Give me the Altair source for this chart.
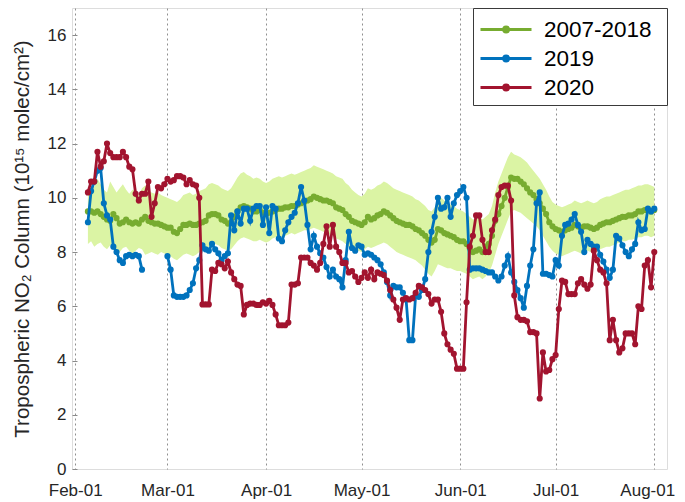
import altair as alt
import pandas as pd

SERIES = ["2007-2018", "2019", "2020"]
COLORS = ["#77AC30", "#0072BD", "#A2142F"]
BAND_COLOR = "#DBF4A4"

CLIM_START = "2020-02-05"
# 2007-2018 mean, daily from Feb 5 to Aug 1
GREEN = [
    9.5, 9.5, 9.45, 9.5, 9.4, 9.3, 9.2, 9.15, 9.4, 9.25, 9.05, 9.1, 9.2, 9.1, 9.05, 9.1, 9.05, 9.2, 9.3, 9.15, 9.1, 9.05, 9.05, 9.0, 8.95,
    8.9, 8.9, 8.75, 8.7, 8.85, 9.0, 9.0, 9.05, 9.0, 9.0, 9.05, 9.1, 9.15, 9.35, 9.4, 9.4, 9.35, 9.2, 9.15, 9.05, 9.1, 9.3, 9.5, 9.65, 9.7, 9.65, 9.6, 9.5, 9.5, 9.55, 9.45,
    9.4, 9.45, 9.5, 9.55, 9.6, 9.6, 9.65, 9.65, 9.7, 9.7, 9.75, 9.8, 9.85, 9.9, 9.95, 10.05, 10.0, 9.95, 9.9, 9.9, 9.85, 9.8, 9.65, 9.6, 9.55, 9.4, 9.3, 9.15, 9.1, 9.05,
    9.0, 9.1, 9.3, 9.2, 9.25, 9.35, 9.4, 9.5, 9.45, 9.35, 9.25, 9.15, 9.1, 9.05, 9.0, 9.0, 8.95, 8.85, 8.8, 8.7, 8.6, 8.45, 8.35, 8.45, 8.85, 8.8, 8.7, 8.65, 8.6, 8.55, 8.45,
    8.4, 8.4, 8.3, 8.15, 8.0, 8.05, 8.1, 8.0, 8.2, 8.3, 8.6, 9.15, 9.4, 9.7, 10.0, 10.4, 10.75, 10.7, 10.7, 10.6, 10.5, 10.35, 10.2, 10.1, 9.95, 9.8, 9.6, 9.4, 9.1, 8.95,
    8.85, 8.8, 8.75, 8.8, 8.85, 8.9, 9.0, 8.95, 8.9, 8.95, 8.95, 8.9, 8.85, 8.9, 9.0, 9.05, 9.1, 9.1, 9.15, 9.2, 9.25, 9.3, 9.3, 9.35, 9.35, 9.4, 9.5, 9.5, 9.55, 9.55, 9.5, 9.55,
]
LOWER = [
    8.3, 8.4, 8.2, 8.3, 8.35, 8.2, 8.1, 8.25, 8.3, 8.1, 8.0, 8.15, 8.2, 8.05, 7.95, 8.05, 8.15, 8.1, 7.9, 7.95, 8.0, 7.95, 7.9, 8.0, 7.95,
    7.9, 7.85, 7.75, 7.7, 7.8, 7.9, 7.95, 7.9, 7.85, 7.9, 8.0, 8.05, 8.1, 8.2, 8.3, 8.3, 8.25, 8.15, 8.1, 8.05, 8.1, 8.25, 8.4, 8.5, 8.55, 8.5, 8.45, 8.4, 8.4, 8.45, 8.4,
    8.35, 8.4, 8.5, 8.55, 8.6, 8.55, 8.6, 8.65, 8.7, 8.65, 8.7, 8.75, 8.8, 8.8, 8.85, 8.9, 8.85, 8.8, 8.75, 8.7, 8.65, 8.6, 8.5, 8.45, 8.4, 8.3, 8.2, 8.15, 8.1, 8.05,
    8.0, 8.1, 8.2, 8.15, 8.2, 8.25, 8.3, 8.35, 8.3, 8.2, 8.1, 8.0, 7.95, 7.9, 7.85, 7.8, 7.75, 7.7, 7.6, 7.5, 7.35, 7.2, 7.1, 7.3, 7.55, 7.5, 7.45, 7.4, 7.4, 7.35, 7.3,
    7.3, 7.25, 7.2, 7.1, 7.0, 7.05, 7.1, 7.0, 7.1, 7.25, 7.5, 7.9, 8.3, 8.6, 8.9, 9.2, 9.5, 9.55, 9.5, 9.45, 9.35, 9.25, 9.15, 9.05, 8.95, 8.8, 8.6, 8.4, 8.2, 8.05,
    7.95, 7.9, 7.85, 7.9, 7.95, 8.0, 8.05, 8.0, 7.95, 8.0, 8.05, 8.0, 7.95, 8.0, 8.1, 8.15, 8.2, 8.2, 8.25, 8.3, 8.35, 8.4, 8.4, 8.45, 8.45, 8.5, 8.55, 8.55, 8.6, 8.6, 8.55, 8.6,
]
UPPER = [
    10.3, 10.5, 10.4, 10.7, 10.5, 10.3, 10.2, 10.6, 10.4, 10.2, 10.35, 10.5, 10.3, 10.15, 10.3, 10.25, 10.1, 10.35, 10.45, 10.3, 10.2, 10.15, 10.2, 10.1, 10.05,
    10.0, 9.95, 9.9, 9.85, 9.95, 10.1, 10.15, 10.2, 10.1, 10.15, 10.25, 10.3, 10.35, 10.5, 10.55, 10.5, 10.45, 10.35, 10.3, 10.25, 10.35, 10.55, 10.75, 10.9, 10.95, 10.85, 10.8, 10.7, 10.75, 10.7, 10.6,
    10.55, 10.6, 10.7, 10.75, 10.8, 10.75, 10.8, 10.85, 10.9, 10.85, 10.9, 10.95, 11.0, 11.05, 11.1, 11.2, 11.15, 11.1, 11.05, 11.0, 10.95, 10.9, 10.8, 10.75, 10.7, 10.55, 10.45, 10.3, 10.2, 10.1,
    10.05, 10.15, 10.35, 10.3, 10.35, 10.45, 10.5, 10.6, 10.55, 10.45, 10.35, 10.3, 10.25, 10.2, 10.15, 10.1, 10.05, 9.95, 9.9, 9.8, 9.7, 9.55, 9.5, 9.65, 9.95, 10.0, 9.9, 9.8, 9.75, 9.7, 9.6,
    9.55, 9.5, 9.4, 9.3, 9.2, 9.25, 9.3, 9.2, 9.3, 9.4, 9.7, 10.2, 10.6, 10.9, 11.2, 11.5, 11.7, 11.6, 11.55, 11.5, 11.4, 11.3, 11.15, 11.0, 10.85, 10.7, 10.5, 10.3, 10.05, 9.85,
    9.75, 9.7, 9.65, 9.7, 9.75, 9.8, 9.9, 9.85, 9.8, 9.85, 9.9, 9.85, 9.8, 9.85, 9.95, 10.0, 10.05, 10.05, 10.1, 10.15, 10.2, 10.25, 10.3, 10.3, 10.35, 10.4, 10.45, 10.45, 10.5, 10.5, 10.45, 10.4,
]

# 2019: two pieces with a gap in late February
BLUE_A_START = "2020-02-05"
BLUE_A = [9.1, 10.25, 10.6, 11.0, 11.1, 9.8, 9.35, 9.2, 8.2, 8.0, 7.7, 7.6, 7.85, 7.9, 7.85, 7.9, 7.85, 7.35]
BLUE_B_START = "2020-03-01"
BLUE_B = [
    7.85, 7.35, 6.4, 6.35, 6.35, 6.35, 6.4, 6.6, 6.85, 7.4, 7.7, 8.25, 8.1, 8.05, 8.3, 8.1, 7.95, 7.7, 7.85, 7.95, 9.35, 8.8, 9.5, 9.05, 9.6, 9.6, 9.15, 9.6, 9.7, 9.7, 9.0,
    9.65, 8.7, 9.7, 9.6, 8.5, 8.4, 8.8, 9.1, 9.3, 9.45, 9.8, 10.4, 9.9, 9.0, 8.1, 8.6, 8.2, 7.95, 7.8, 7.45, 7.1, 7.35, 7.1, 7.0, 6.7, 7.7, 8.75, 8.15, 8.05, 8.25,
    8.2, 7.9, 7.95, 7.9, 7.8, 7.7, 7.55, 7.25, 6.9, 6.4, 6.75, 6.7, 6.7, 6.5, 6.25, 4.75, 4.75, 6.4, 6.35, 6.6, 7.0, 8.0, 8.75, 9.3, 10.0, 9.6, 9.65, 10.0, 9.3, 9.8, 10.1,
    10.25, 10.4, 10.0, 7.35, 7.4, 7.4, 7.4, 7.35, 7.3, 7.25, 7.25, 7.1, 6.95, 7.1, 7.5, 7.85, 7.25, 6.9, 6.6, 6.3, 5.95, 6.75, 7.5, 8.1, 9.8, 10.2, 7.2, 7.2, 7.15, 7.1,
    7.7, 7.5, 8.6, 9.0, 9.05, 9.2, 9.4, 9.0, 8.75, 8.0, 8.45, 8.3, 8.2, 8.2, 7.9, 7.65, 7.35, 7.05, 7.35, 8.6, 8.5, 8.25, 8.0, 7.85, 8.1, 8.3, 9.1, 8.8, 8.85, 9.6, 9.5, 9.6,
]

RED_START = "2020-02-05"
RED = [
    10.2, 10.6, 10.6, 11.7, 11.15, 11.35, 12.0, 11.65, 11.5, 11.5, 11.5, 11.7, 11.5, 11.15, 11.05, 10.15, 9.9, 10.15, 10.15, 10.6, 9.3, 9.8, 10.4, 10.35, 10.5,
    10.7, 10.6, 10.65, 10.8, 10.8, 10.75, 10.5, 10.65, 10.5, 10.45, 10.0, 6.07, 6.07, 6.07, 7.35, 7.3, 7.6, 7.55, 7.4, 7.65, 7.25, 7.0, 6.8, 6.75, 5.7, 6.05, 6.1, 6.1, 6.05, 6.05, 6.15,
    6.1, 6.2, 6.05, 5.7, 5.3, 5.3, 5.3, 5.4, 6.8, 6.8, 6.85, 7.8, 7.8, 7.8, 7.6, 7.5, 7.35, 7.6, 8.3, 8.95, 8.2, 9.0, 8.2, 8.0, 7.6, 7.6, 7.25, 7.3, 7.1, 6.9,
    7.05, 7.25, 7.05, 7.35, 7.0, 7.25, 7.2, 7.15, 6.95, 6.6, 6.25, 5.95, 5.5, 6.25, 6.3, 6.25, 6.3, 6.5, 6.75, 6.7, 6.6, 6.45, 6.1, 6.25, 6.25, 5.8, 5.0, 4.6, 4.4, 4.25, 3.7,
    3.7, 3.7, 6.15, 8.2, 8.6, 9.35, 9.35, 8.45, 8.0, 8.0, 8.8, 9.2, 10.1, 10.4, 10.45, 10.45, 9.9, 6.4, 5.6, 5.5, 5.5, 5.45, 5.05, 5.05, 5.0, 2.6, 4.3, 3.6, 3.65, 4.05,
    4.2, 5.9, 6.95, 6.9, 6.45, 6.45, 6.45, 6.85, 7.0, 6.8, 6.65, 6.8, 8.05, 7.7, 7.35, 7.25, 6.85, 4.75, 5.5, 4.75, 4.3, 4.45, 5.0, 5.0, 5.0, 4.6, 6.0, 5.9, 7.5, 7.7, 6.7, 8.0,
]

Y_TICKS = [0, 2, 4, 6, 8, 10, 12, 14, 16]
MONTHS = [2, 3, 4, 5, 6, 7, 8]

assert len(GREEN) == 179 and len(LOWER) == 179 and len(UPPER) == 179
assert len(RED) == 179 and len(BLUE_A) == 18 and len(BLUE_B) == 154


def days(start, n):
    return pd.date_range(start, periods=n, freq="D").strftime("%Y-%m-%d").tolist()


clim = pd.DataFrame({"date": days(CLIM_START, len(GREEN)), "lo": LOWER, "hi": UPPER})

rows = []
for d, v in zip(days(CLIM_START, len(GREEN)), GREEN):
    rows.append({"series": SERIES[0], "seg": "a", "date": d, "value": v})
for d, v in zip(days(BLUE_A_START, len(BLUE_A)), BLUE_A):
    rows.append({"series": SERIES[1], "seg": "a", "date": d, "value": v})
for d, v in zip(days(BLUE_B_START, len(BLUE_B)), BLUE_B):
    rows.append({"series": SERIES[1], "seg": "b", "date": d, "value": v})
for d, v in zip(days(RED_START, len(RED)), RED):
    rows.append({"series": SERIES[2], "seg": "a", "date": d, "value": v})
lines = pd.DataFrame(rows)

FONT = "Liberation Sans"
TXT = "#262626"

xscale = alt.Scale(
    type="utc",
    domain=[alt.DateTime(year=2020, month=1, date=31, utc=True),
            alt.DateTime(year=2020, month=8, date=5, utc=True)],
)
yscale = alt.Scale(domain=[0, 17], nice=False, zero=False)

xaxis = alt.Axis(
    values=[alt.DateTime(year=2020, month=m, date=1, utc=True) for m in MONTHS],
    labelExpr="utcFormat(datum.value, '%b-%d')", labelFontSize=17, labelPadding=13,
    labelOffset=alt.ConditionalAxisNumber(
        condition={"test": "utcmonth(datum.value) == 7", "value": -7}, value=0),
    ticks=False, domain=False, grid=True, gridDash=[2, 3], gridColor="#8f8f8f",
    gridWidth=1, labelFont=FONT, labelColor=TXT, title=None,
)
yaxis = alt.Axis(
    values=Y_TICKS, labelFontSize=17, tickSize=5, offset=-5, tickColor="#8a8a8a",
    labelPadding=6, domain=False, grid=False, labelFont=FONT, labelColor=TXT,
    title="Tropospheric NO\u2082 Column (10\u00b9\u2075 molec/cm\u00b2)",
    titleFontSize=20.5, titleFont=FONT, titleColor=TXT, titleFontWeight="normal",
    titlePadding=15,
)

SYMBOL = ("M-1,0L2.643,0"
          "M0.65,0a0.18,0.18 0 1,0 0.36,0a0.18,0.18 0 1,0 -0.36,0"
          "M0.73,0a0.1,0.1 0 1,0 0.2,0a0.1,0.1 0 1,0 -0.2,0")

legend = alt.Legend(
    orient="top-right", offset=0, symbolType=SYMBOL, symbolSize=784,
    symbolStrokeWidth=2.8, labelFontSize=22.5, labelFont=FONT, labelColor="#000000",
    labelOffset=34, padding=6, rowPadding=2, strokeColor="#3a3a3a",
    fillColor="white", labelLimit=300,
    title="ii", titleOrient="right", titleColor="white", titleFontSize=12,
    titlePadding=2,
)
cscale = alt.Scale(domain=SERIES, range=COLORS)

band = alt.Chart(clim).mark_area(color=BAND_COLOR, opacity=1).encode(
    x=alt.X("date:T", scale=xscale, axis=xaxis),
    y=alt.Y("lo:Q", scale=yscale, axis=yaxis),
    y2="hi:Q",
)

layers = [band]
for i, s in enumerate(SERIES):
    layers.append(
        alt.Chart(lines).transform_filter(alt.datum.series == s)
        .mark_line(strokeWidth=2.8, point=alt.OverlayMarkDef(filled=True, size=38, opacity=1))
        .encode(
            x=alt.X("date:T", scale=xscale),
            y=alt.Y("value:Q", scale=yscale),
            color=alt.Color("series:N", scale=cscale, legend=legend if i == 0 else None),
            detail="seg:N",
        )
    )

chart = (
    alt.layer(*layers)
    .properties(width=595, height=461, autosize=alt.AutoSizeParams(type="none"),
                padding={"left": 64, "top": 0, "right": 10, "bottom": 33})
    .configure_view(stroke="#8a8a8a", strokeWidth=1)
    .configure(background="white")
)

chart.save("out.html", embed_options={"renderer": "svg", "actions": False})
